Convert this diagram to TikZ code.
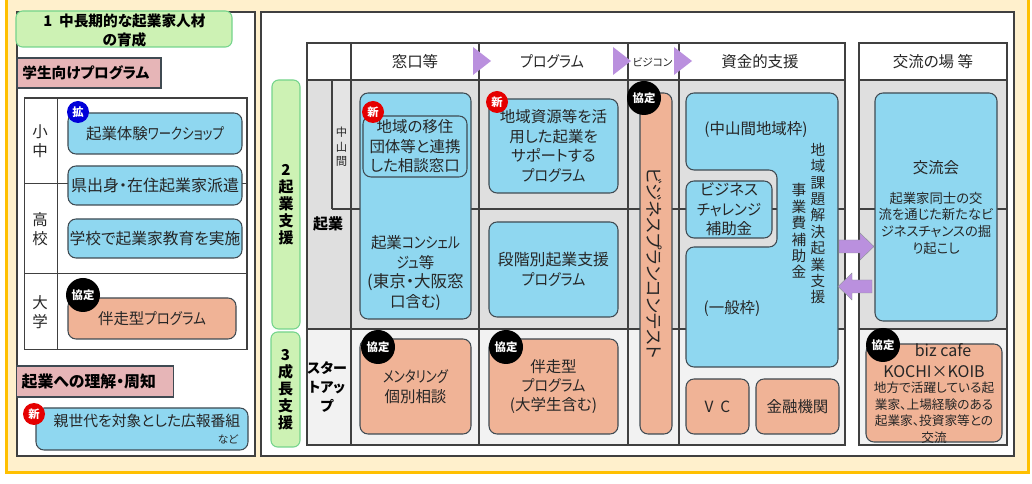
\documentclass[tikz,border=0pt]{standalone}
\usepackage{fontspec}
\usepackage{graphicx}
\setmainfont[RawFeature=+palt]{Noto Sans CJK JP}
\usetikzlibrary{shapes,arrows}
\definecolor{creambg}{HTML}{FFF0CC}
\definecolor{framegold}{HTML}{FFC000}
\definecolor{boxblue}{HTML}{8FD7F0}
\definecolor{boxcoral}{HTML}{F0B396}
\definecolor{boxgreen}{HTML}{CDF2B4}
\definecolor{edgegreen}{HTML}{74D48C}
\definecolor{boxpink}{HTML}{E6B5B7}
\definecolor{edgedark}{HTML}{3F4A52}
\definecolor{arrowpurple}{HTML}{BA90DE}
\definecolor{rowdark}{HTML}{DFDFDF}
\definecolor{rowlight}{HTML}{F2F2F2}
\definecolor{inkgray}{HTML}{262626}
\newcommand{\kana}[2][0.82]{\scalebox{#1}[1]{#2}}
\tikzset{boxsize/.style 2 args={minimum width=#1*0.75pt, minimum height=#2*0.75pt}}
\tikzstyle{grid} = [draw = black!75, line width = 0.8pt]
\tikzstyle{bluebox} = [rectangle, rounded corners = 6pt, draw = edgedark, line width = 0.8pt, fill = boxblue, inner sep = 0pt, align = center, text = inkgray, font = \fontsize{11.6}{14.6}\selectfont]
\tikzstyle{coralbox} = [bluebox, fill = boxcoral]
\tikzstyle{greenbox} = [rectangle, rounded corners = 5pt, draw = edgegreen, line width = 0.8pt, fill = boxgreen, inner sep = 0pt, align = center, font = \fontsize{11.25}{12.75}\selectfont\bfseries]
\tikzstyle{pinkbox} = [rectangle, draw = edgedark, line width = 0.8pt, fill = boxpink, inner sep = 0pt, font = \fontsize{11}{14}\selectfont\bfseries]
\tikzstyle{caption} = [inner sep = 0pt, align = center, text = inkgray, font = \fontsize{11.6}{14.6}\selectfont]
\tikzstyle{boldcap} = [caption, text = black, font = \fontsize{11.25}{14.6}\selectfont\bfseries]
\tikzstyle{badge} = [circle, inner sep = 0pt, minimum size = 16.5pt, text = white, font = \fontsize{8.5}{10}\selectfont\bfseries]
\tikzstyle{agreed} = [badge, fill = black, minimum size = 25.5pt]
\tikzstyle{newmark} = [badge, fill = red!90!black]
\tikzstyle{growmark} = [badge, fill = blue!85!black]
\tikzstyle{flow} = [fill = arrowpurple, draw = edgedark!60, line width = 0.3pt]
\tikzstyle{flag} = [fill = arrowpurple]
\begin{document}
\begin{tikzpicture}[x=0.75pt,y=-0.75pt]
        \useasboundingbox (0,0) rectangle (1032,484);
        \fill [framegold] (5,-2) rectangle (1030,474);
        \fill [creambg] (8,-2) rectangle (1027,471);
        \draw [fill = white, draw = black!75, line width = 0.8pt] (17,12) rectangle (255,456);
        \draw [fill = white, draw = black!75, line width = 0.8pt] (261,12) rectangle (1014,456);

        \draw [grid] (24.5,98) rectangle (247,349.5);
        \draw [grid] (57.5,98) -- (57.5,349.5);
        \draw [grid] (24.5,183.5) -- (247,183.5);
        \draw [grid] (24.5,273.5) -- (247,273.5);

        \node (iku) [greenbox, boxsize={216}{36}] at (124,29) {};
        \node (ikutext) [boldcap, font = \fontsize{11}{14.2}\selectfont\bfseries] at (124.5,31) {1\ \ 中長期的な起業家人材\\の育成};
        \node (gakusei) [pinkbox, boxsize={144}{30}, text width = 100pt, inner xsep = 4pt] at (89,73) {学生向けプログラム};
        \node (shochu) [caption] at (40,141) {小\\中};
        \node (koko) [caption] at (40,229) {高\\校};
        \node (daigaku) [caption] at (40,312) {大\\学};
        \node (taiken) [bluebox, boxsize={174}{41}] at (155,133.5) {起業体験\kana[0.8]{ワークショップ}};
        \node (haken) [bluebox, boxsize={174}{39}] at (155,185.5) {\fontsize{12}{14}\selectfont 県出身・在住起業家派遣};
        \node (kyoiku) [bluebox, boxsize={174}{39}] at (155,238.5) {\fontsize{11.8}{14}\selectfont 学校で起業家教育を実施};
        \node (banso) [coralbox, boxsize={168}{41}] at (152,318.5) {伴走型\kana[0.87]{プログラム}};
        \node (kakumark) [growmark] at (78,112) {拡};
        \node (bansomark) [agreed] at (83,295) {協定};
        \node (rikai) [pinkbox, boxsize={156}{31}, text width = 110pt, inner xsep = 4pt, font = \fontsize{11.9}{14}\selectfont\bfseries] at (95,381.5) {起業への理解・周知};
        \node (koho) [bluebox, boxsize={212}{42}] at (142,429) {};
        \node (kohotext) [caption, font = \fontsize{11.1}{14}\selectfont] at (147,421) {親世代を対象とした広報番組};
        \node (nado) [caption, font = \fontsize{8}{10}\selectfont] at (228,439) {など};
        \node (kohomark) [newmark] at (34,414) {新};

        \fill [rowdark] (307,80) rectangle (845,329);
        \fill [rowlight] (307,329) rectangle (845,445);
        \fill [rowdark] (859,80) rectangle (1007,329);
        \fill [rowlight] (859,329) rectangle (1007,445);
        \fill [rowdark!85!white] (332,80) rectangle (351,209);
        \draw [grid] (307,43) rectangle (845,445);
        \draw [grid] (859,43) rectangle (1007,445);
        \foreach \vx in {351,479,628,679}
            \draw [grid] (\vx,43) -- (\vx,445);
        \draw [grid] (307,80) -- (845,80);
        \draw [grid] (859,80) -- (1007,80);
        \draw [grid] (332,80) -- (332,209);
        \draw [grid] (332,209) -- (845,209);
        \draw [grid] (859,209) -- (1007,209);
        \draw [grid] (307,329) -- (845,329);
        \draw [grid] (859,329) -- (1007,329);
        \fill [flag] (473,47) -- (491,61) -- (473,75) -- cycle;
        \fill [flag] (613,47) -- (631,61) -- (613,75) -- cycle;
        \fill [flag] (674,47) -- (692,61) -- (674,75) -- cycle;

        \node (madoguchi) [caption] at (415,62) {窓口等};
        \node (program) [caption] at (552,62) {\kana[0.9]{プログラム}};
        \node (bizcon) [caption, font = \fontsize{8}{10}\selectfont] at (652.5,62) {ビジコン};
        \node (shikin) [caption] at (760,62) {資金的支援};
        \node (koryuba) [caption] at (933,62) {交流の場 等};

        \node (shien) [greenbox, boxsize={28}{249}] at (286,204.5) {2\\起\\業\\支\\援};
        \node (seicho) [greenbox, boxsize={29}{115}] at (285.5,389.5) {3\\成\\長\\支\\援};
        \node (chusan) [caption, font = \fontsize{8.5}{11}\selectfont] at (341.5,147) {中\\山\\間};
        \node (kigyo) [boldcap] at (328,224) {起業};
        \node (startup) [boldcap, font = \fontsize{10.5}{14.6}\selectfont\bfseries] at (327,387) {スター\\トアッ\\プ};

        \node (concierge) [bluebox, boxsize={111}{226}] at (415.5,206) {};
        \node (iju) [bluebox, boxsize={104}{61}] at (415,146.5) {地域の移住\\団体等と連携\\した相談窓口};
        \node (concierget) [caption] at (415.5,273) {起業\kana[0.83]{コンシェル}\\\kana{ジュ}等\\\fontsize{12.4}{14.8}\selectfont (東京・大阪窓\\\fontsize{11.6}{14.8}\selectfont 口含む)};
        \node (ijumark) [newmark] at (373,112) {新};
        \node (chiiki) [bluebox, boxsize={129}{94}] at (553.5,146) {地域資源等を活\\用した起業を\\サポートする\\\kana[0.9]{プログラム}};
        \node (chiikimark) [newmark] at (497,102) {新};
        \node (dankai) [bluebox, boxsize={129}{95}] at (553.5,269.5) {\fontsize{11.9}{14.6}\selectfont 段階別起業支援\\\kana[0.9]{プログラム}};
        \node (mentor) [coralbox, boxsize={111}{95}] at (415.5,386.5) {\kana[0.8]{メンタリング}\\個別相談};
        \node (mentormark) [agreed] at (378,347) {協定};
        \node (bansob) [coralbox, boxsize={129}{95}] at (553.5,386.5) {伴走型\\\kana[0.9]{プログラム}\\(大学生含む)};
        \node (bansobmark) [agreed] at (506,347) {協定};

        \node (contest) [coralbox, boxsize={32}{341}] at (656,263.5) {};
        \node (contesttext) [caption, rotate = -90, font = \fontsize{13.2}{15}\selectfont] at (654,263) {ビジネスプランコンテスト};
        \node (contestmark) [agreed] at (644,98) {協定};

        \draw [bluebox] (686,93) -- (838,93) -- (838,367) -- (686,367) -- (686,247) -- (777,247) -- (777,170) -- (686,170) -- cycle;
        \node (chusanwaku) [caption] at (756,130) {(中山間地域枠)};
        \node (ippan) [caption] at (732,309) {(一般枠)};
        \node (challenge) [bluebox, boxsize={86}{57}] at (729,209.5) {ビジネス\\\kana[0.93]{チャレンジ}\\補助金};
        \node (kadai) [caption, font = \fontsize{11}{12.3}\selectfont] at (818,223.5) {地\\域\\課\\題\\解\\決\\起\\業\\支\\援};
        \node (jigyo) [caption, font = \fontsize{11}{12.3}\selectfont] at (799,231) {事\\業\\費\\補\\助\\金};
        \node (vc) [coralbox, boxsize={63}{55}] at (717.5,406.5) {V\ \ C};
        \node (kinyu) [coralbox, boxsize={83}{55}] at (797.5,406.5) {金融機関};

        \node (koryu) [bluebox, boxsize={122}{228}] at (936,207) {};
        \node (koryutitle) [caption] at (936,168) {交流会};
        \node (koryutext) [caption, font = \fontsize{10}{12.5}\selectfont] at (936,223) {起業家同士の交\\流を通じた新たなビ\\ジネスチャンスの掘\\り起こし};
        \node (biz) [coralbox, boxsize={136}{98}] at (934,393) {};
        \node (biztitle) [caption, font = \fontsize{12}{15.75}\selectfont] at (934,361) {\ \ \ \ \ biz cafe\\KOCHI×KOIB};
        \node (biztext) [caption, font = \fontsize{9.5}{12.4}\selectfont] at (934,412.5) {地方で活躍している起\\業家、上場経験のある\\起業家、投資家等との\\交流};
        \node (bizmark) [agreed] at (883,345) {協定};

        \draw [flow] (839,240) -- (860,240) -- (860,233) -- (874,246.5) -- (860,260) -- (860,253) -- (839,253) -- cycle;
        \draw [flow] (872,280) -- (852,280) -- (852,273) -- (838,286.5) -- (852,300) -- (852,293) -- (872,293) -- cycle;
    \end{tikzpicture}
\end{document}
